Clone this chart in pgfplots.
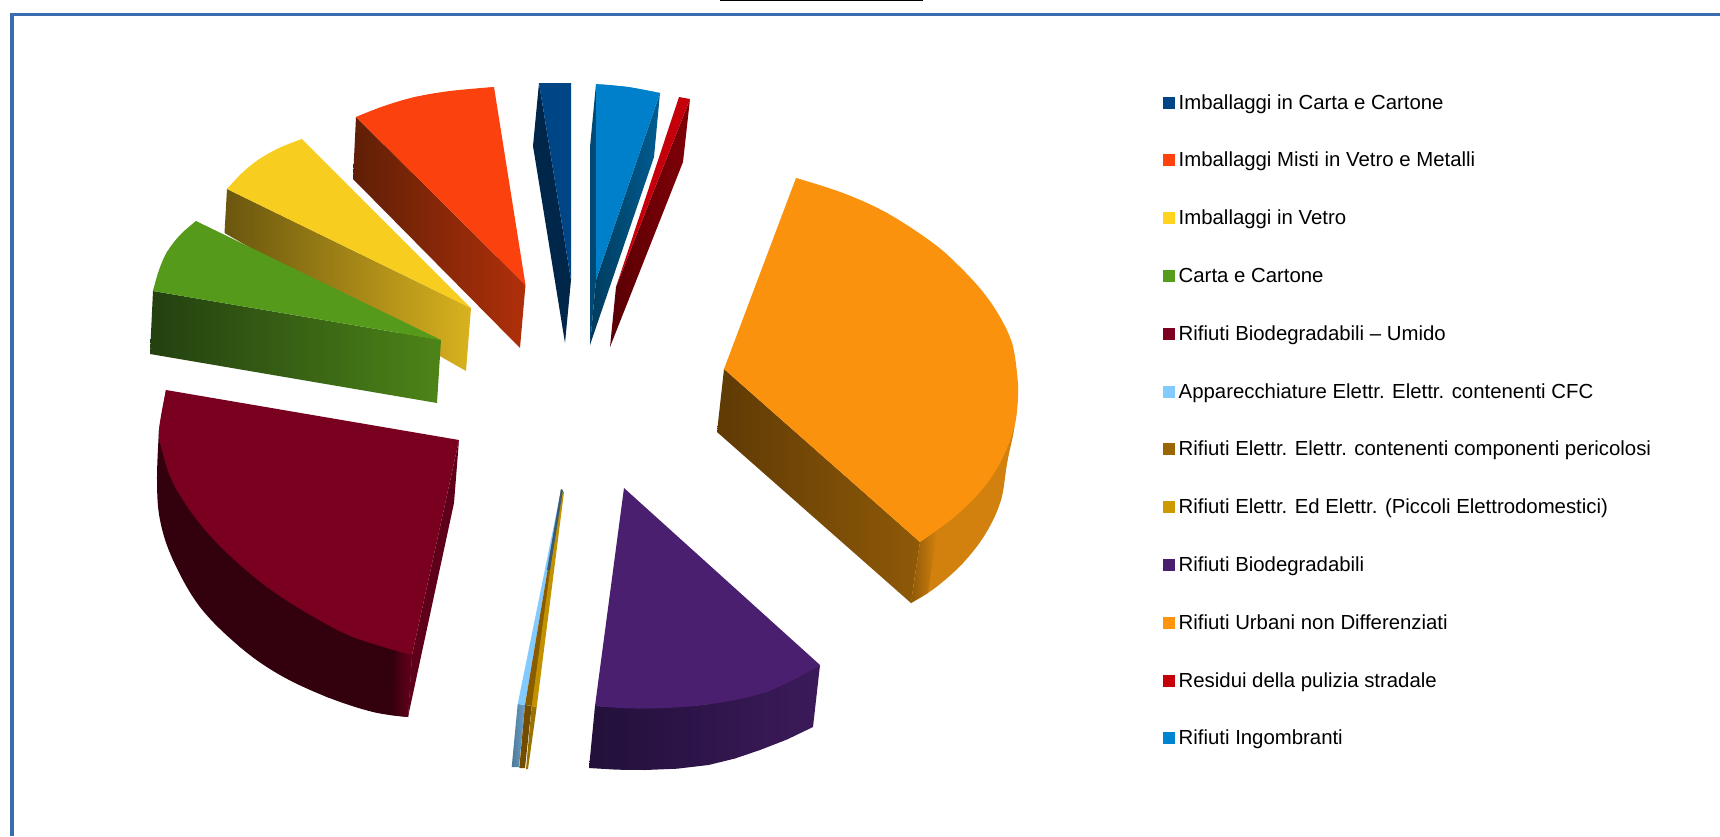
\documentclass[border=0pt]{standalone}
\usepackage{pgfplots}
\usepackage{fontspec}
\setmainfont{Liberation Sans}
\pgfplotsset{compat=1.18}

% legend palette
\definecolor{cCarta}{HTML}{004586}
\definecolor{cMisti}{HTML}{FF420E}
\definecolor{cVetro}{HTML}{FFD320}
\definecolor{cCC}{HTML}{579D1C}
\definecolor{cUmido}{HTML}{7E0021}
\definecolor{cCFC}{HTML}{83CAFF}
\definecolor{cPer}{HTML}{996600}
\definecolor{cPic}{HTML}{CC9900}
\definecolor{cBio}{HTML}{4B1F6F}
\definecolor{cRUR}{HTML}{FF950E}
\definecolor{cRes}{HTML}{C5000B}
\definecolor{cIng}{HTML}{0084D1}
\definecolor{frame}{HTML}{3A6CB0}

\pgfplotsset{
  face/.style={forget plot, draw=none, fill=#1},
  arc/.style={forget plot, draw=none, fill=#1, smooth, tension=0.6},
  grad/.style 2 args={forget plot, draw=none, left color=#1, right color=#2},
}
\definecolor{x1}{HTML}{5F1F06}\definecolor{x2}{HTML}{B0300A}
\definecolor{x3}{HTML}{6A560E}\definecolor{x4}{HTML}{D9B21F}
\definecolor{x5}{HTML}{234010}\definecolor{x6}{HTML}{4D8418}
\definecolor{x7}{HTML}{5F3A05}\definecolor{x8}{HTML}{8F5A08}
\definecolor{x9}{HTML}{22103A}\definecolor{x10}{HTML}{3C1A5A}
\definecolor{rurside}{HTML}{D2800E}
\definecolor{umside}{HTML}{33000E}

\begin{document}
\begin{tikzpicture}
\path[use as bounding box] (0,0) rectangle (860pt,418pt);
\begin{axis}[
  scale only axis,
  width=860pt, height=418pt,
  xmin=0, xmax=1720, ymin=0, ymax=836,
  y dir=reverse,
  hide axis,
  legend image code/.code={\fill[#1,draw=none] (0pt,-3pt) rectangle (6pt,3pt);},
  legend cell align=left,
  legend style={
    at={(0.676,0.888)}, anchor=north west,
    draw=none, fill=none, inner sep=0pt, outer sep=0pt,
    row sep=19.9pt, column sep=2pt,
    font=\fontsize{10.18}{12}\selectfont,
    nodes={inner sep=0pt, outer sep=0pt, text height=7.75pt, text depth=1.25pt},
  },
]
% frame and cut-off title rule
\addplot[forget plot, frame, line width=1.85pt] coordinates {(12,836)(12,14.5)(1720,14.5)};
\addplot[forget plot, black, line width=1pt] coordinates {(720,0)(923,0)};

% Imballaggi Misti
\addplot[grad={x1}{x2}] coordinates {(356,117)(353,179)(520,348)(525.5,285)};
\addplot[face=cMisti!98!black] coordinates {(356,117)(415,97)(494,87)(525.5,285)};
\addplot[arc=cMisti!98!black] coordinates {(356,117)(384,106)(415,97)(450,91)(494,87)};
% Imballaggi in Vetro
\addplot[grad={x3}{x4}] coordinates {(227,189)(224.5,233)(466,371)(471,308)};
\addplot[face=cVetro!97!black] coordinates {(227,189)(258,160)(302,139)(471,308)};
\addplot[arc=cVetro!97!black] coordinates {(227,189)(242,173)(258,160)(279,148)(302,139)};
% Carta e Cartone
\addplot[grad={x5}{x6}] coordinates {(153,291)(150,354)(437,403)(441,340)};
\addplot[face=cCC!98!black] coordinates {(153,291)(167,252)(196,221)(441,340)};
\addplot[arc=cCC!98!black] coordinates {(153,291)(159,270)(167,252)(180,235)(196,221)};
% Imballaggi in Carta e Cartone
\addplot[face=cCarta!55!black] coordinates {(539,83)(533,146)(565,343)(571,280)};
\addplot[face=cCarta] coordinates {(539,83)(571,83)(571,280)};
% Rifiuti Ingombranti
\addplot[face=cIng!55!black] coordinates {(596,84)(590,147)(590,345)(596,280)};
\addplot[grad={cIng!45!black}{cIng!70!black}] coordinates {(660,93)(654,157)(590,345)(596,280)};
\addplot[face=cIng!97!black] coordinates {(596,84)(628,87)(660,93)(596,280)};
\addplot[arc=cIng!97!black] coordinates {(596,84)(628,87)(660,93)};
% Residui della pulizia stradale
\addplot[grad={cRes!45!black}{cRes!65!black}] coordinates {(690,99)(683,162)(610,347)(616,287)};
\addplot[face=cRes] coordinates {(679,97)(690,99)(616,287)};
% Rifiuti Urbani non Differenziati
\addplot[grad={x7}{x8}] coordinates {(724,369)(717,432)(911,603)(920,542)};
\addplot[face=rurside] coordinates {(1018,395)(1001,500)(963,563)(911,603)(920,542)(980,400)};
\addplot[arc=rurside] coordinates {(1018,395)(1014,430)(1007,463)(1001,500)(986,533)(963,563)(935,588)(911,603)};
\addplot[grad={x8}{rurside}] coordinates {(920,542)(911,603)(928,593)(937,530)};
\addplot[face=cRUR!98!black] coordinates {(796,178)(887,213)(960,267)(1012,343)(1018,397)(1000,463)(953,518)(920,542)(724,369)};
\addplot[arc=cRUR!98!black] coordinates {(796,178)(843,193)(887,213)(933,243)(960,267)(983,292)(1000,317)(1012,343)(1017,373)(1018,397)(1014,428)(1000,463)(980,492)(953,518)(920,542)};
% Rifiuti Biodegradabili - Umido
\addplot[face=umside] coordinates {(159,430)(173,560)(240,647)(327,697)(408,717)(412,655)(300,500)};
\addplot[arc=umside] coordinates {(159,430)(157,480)(160,520)(173,560)(200,607)(240,647)(280,675)(327,697)(373,712)(408,717)};
\addplot[grad={umside}{cUmido!80!black}] coordinates {(395,650)(391,715)(408,717)(412,655)};
\addplot[face=cUmido!75!black] coordinates {(459,440)(454,503)(408,717)(412,655)};
\addplot[face=cUmido!97!black] coordinates {(166,390)(459,440)(412,655)(353,637)(267,587)(197,520)(162,450)(159,430)};
\addplot[arc=cUmido!97!black] coordinates {(166,390)(159,430)(162,450)(173,483)(197,520)(227,553)(267,587)(307,613)(353,637)(412,655)};
% Apparecchiature contenenti CFC
\addplot[grad={cCFC!60!black}{cCFC!80!black}] coordinates {(517.7,704)(511.7,767)(519,767)(525,705)};
\addplot[face=cCFC] coordinates {(561,490)(517.7,704)(525,705)};
% Rifiuti Elettr. componenti pericolosi
\addplot[face=cPer!75!black] coordinates {(525,705)(519.3,768)(525,768)(531.7,706)};
\addplot[face=cPer!90!black] coordinates {(561,490)(525,705)(532.7,706)};
% Rifiuti Elettr. Piccoli Elettrodomestici
\addplot[face=cPic!75!black] coordinates {(531.7,706)(526,769)(528,769)(536.7,707)};
\addplot[face=cPic!95!black] coordinates {(561,490)(564,492)(536.7,707)(531.7,706)};
\addplot[face=cCFC!45!black] coordinates {(561,489)(563,490)(550,570)(547,570)};
% Rifiuti Biodegradabili
\addplot[grad={x9}{x10}] coordinates {(595,706)(589,768)(617,769.7)(645,770)(677,768.7)(708.5,765)(735,758.5)(760,750)(787,739.5)(813,727)(820,665)(766,692)(703,705)(645,708)};
\addplot[face=cBio] coordinates {(624,488)(820,665)(766,692)(703,705)(645,708)(595,706)};
\addplot[arc=cBio] coordinates {(595,706)(620,708)(645,708.5)(675,707.5)(703,705)(735,700)(766,692)(795,679)(820,665)};

% legend
\addlegendimage{fill=cCarta}\addlegendentry{Imballaggi in Carta e Cartone}
\addlegendimage{fill=cMisti}\addlegendentry{Imballaggi Misti in Vetro e Metalli}
\addlegendimage{fill=cVetro}\addlegendentry{Imballaggi in Vetro}
\addlegendimage{fill=cCC}\addlegendentry{Carta e Cartone}
\addlegendimage{fill=cUmido}\addlegendentry{Rifiuti Biodegradabili – Umido}
\addlegendimage{fill=cCFC}\addlegendentry{Apparecchiature Elettr. Elettr. contenenti CFC}
\addlegendimage{fill=cPer}\addlegendentry{Rifiuti Elettr. Elettr. contenenti componenti pericolosi}
\addlegendimage{fill=cPic}\addlegendentry{Rifiuti Elettr. Ed Elettr. (Piccoli Elettrodomestici)}
\addlegendimage{fill=cBio}\addlegendentry{Rifiuti Biodegradabili}
\addlegendimage{fill=cRUR}\addlegendentry{Rifiuti Urbani non Differenziati}
\addlegendimage{fill=cRes}\addlegendentry{Residui della pulizia stradale}
\addlegendimage{fill=cIng}\addlegendentry{Rifiuti Ingombranti}
\end{axis}
\end{tikzpicture}
\end{document}
